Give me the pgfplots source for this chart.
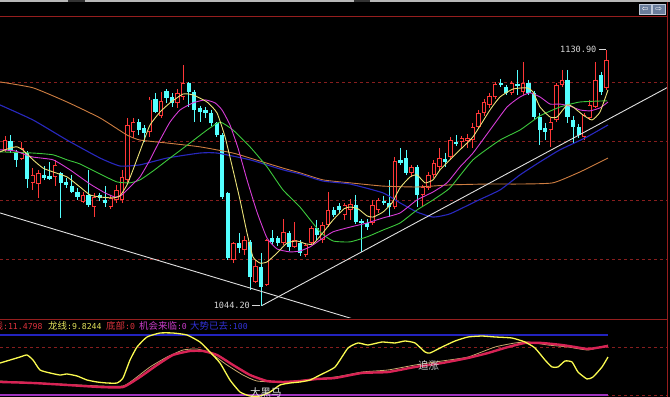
\documentclass[border=0pt]{standalone}
\usepackage{pgfplots}
\pgfplotsset{compat=1.18}
\usepackage{pgfplotstable}
\usepackage{fontspec}
\setmainfont{DejaVu Sans}
\newfontfamily\cjk{Noto Sans CJK SC}
\newfontfamily\mono{DejaVu Sans Mono}

\definecolor{cup}{RGB}{255,55,55}
\definecolor{cdown}{RGB}{84,255,255}
\definecolor{maA}{RGB}{235,225,120}
\definecolor{maB}{RGB}{215,60,215}
\definecolor{maC}{RGB}{60,200,60}
\definecolor{maD}{RGB}{40,40,190}
\definecolor{maE}{RGB}{205,125,65}
\definecolor{gridred}{RGB}{135,30,30}
\definecolor{framered}{RGB}{150,30,30}
\definecolor{indy}{RGB}{250,250,80}
\definecolor{indr}{RGB}{215,35,85}
\definecolor{indt}{RGB}{200,170,110}
\definecolor{lbl}{RGB}{215,215,215}
\definecolor{hred}{RGB}{220,50,60}
\definecolor{hyel}{RGB}{225,225,90}
\definecolor{hmag}{RGB}{200,60,200}
\definecolor{hblu}{RGB}{50,50,215}
\definecolor{zblue}{RGB}{35,35,190}
\definecolor{zpurp}{RGB}{160,50,190}

% up (red) candles: index open high low close
\pgfplotstableread{
i o h l c
0 1096.9 1101.7 1096.3 1100.3
3 1094.0 1099.5 1093.5 1097.5
5 1085.8 1090.8 1083.4 1088.5
6 1085.4 1090.2 1080.7 1089.1
9 1087.8 1093.6 1084.8 1091.9
14 1079.3 1082.7 1079.0 1081.7
16 1077.6 1082.4 1074.2 1081.0
19 1077.6 1081.7 1076.9 1080.7
20 1080.0 1085.1 1079.0 1083.4
21 1080.0 1090.2 1079.0 1087.8
22 1086.8 1107.8 1086.1 1105.4
23 1103.1 1107.8 1101.0 1106.4
26 1103.1 1114.9 1101.4 1114.0
28 1108.5 1116.6 1107.8 1113.6
31 1112.9 1117.6 1111.2 1116.3
32 1114.9 1125.8 1113.9 1119.7
41 1059.7 1065.8 1058.6 1065.4
43 1063.1 1067.8 1061.4 1066.4
45 1052.2 1059.7 1051.9 1057.6
47 1051.2 1066.8 1050.8 1066.4
50 1065.4 1073.6 1064.7 1069.2
52 1064.1 1072.5 1063.7 1066.4
54 1061.4 1065.4 1060.7 1064.7
55 1065.4 1071.2 1064.7 1070.5
57 1066.4 1072.5 1065.4 1071.5
58 1071.5 1082.7 1070.8 1076.6
61 1074.9 1079.0 1073.2 1078.3
62 1076.6 1080.3 1073.2 1078.6
66 1072.2 1080.0 1071.5 1078.3
67 1076.6 1080.7 1075.6 1080.0
70 1077.6 1094.6 1076.9 1093.2
73 1089.2 1091.9 1087.8 1091.2
75 1081.7 1085.1 1077.6 1084.4
76 1084.1 1089.5 1083.4 1088.5
77 1088.5 1093.6 1087.5 1092.5
78 1091.2 1097.6 1090.2 1094.2
80 1094.6 1101.4 1093.6 1100.3
82 1099.7 1101.7 1097.6 1101.0
83 1100.0 1102.4 1097.6 1101.0
84 1100.3 1106.1 1097.6 1104.7
85 1104.7 1110.5 1104.1 1109.5
86 1109.5 1114.2 1108.5 1113.2
87 1112.2 1116.3 1111.2 1115.3
88 1114.9 1120.0 1114.2 1119.3
91 1116.3 1120.3 1115.6 1119.7
93 1116.6 1126.8 1115.6 1119.7
98 1103.7 1107.8 1098.0 1106.4
99 1107.1 1119.7 1106.4 1119.0
100 1119.0 1124.1 1118.3 1120.7
104 1101.4 1109.5 1100.3 1108.8
105 1107.8 1113.9 1107.1 1112.2
106 1111.5 1126.8 1111.2 1120.7
108 1118.0 1130.9 1117.3 1127.5
}\up

% down (cyan) candles
\pgfplotstableread{
i o h l c
1 1100.0 1102.0 1095.9 1096.6
2 1096.3 1097.0 1091.2 1093.6
4 1095.9 1096.5 1084.1 1087.1
7 1088.5 1091.5 1086.8 1087.5
8 1088.1 1092.9 1086.8 1087.1
10 1089.1 1089.5 1073.9 1085.8
11 1086.1 1087.5 1084.0 1085.1
12 1084.7 1088.5 1082.4 1082.7
13 1082.7 1084.0 1080.0 1081.0
15 1081.7 1090.2 1077.6 1078.3
17 1081.7 1082.4 1079.6 1080.7
18 1080.0 1084.7 1077.6 1079.0
24 1106.4 1107.5 1102.0 1103.7
25 1104.4 1105.4 1099.7 1102.7
27 1114.2 1116.3 1109.5 1109.8
29 1116.9 1117.6 1113.0 1114.6
30 1114.9 1116.3 1111.5 1112.9
33 1119.7 1120.0 1111.5 1116.6
34 1116.6 1117.3 1106.4 1110.5
35 1111.2 1112.0 1106.4 1109.8
36 1110.5 1111.5 1107.8 1109.5
37 1109.5 1110.5 1105.0 1106.1
38 1106.1 1106.4 1101.4 1102.0
39 1102.0 1102.7 1080.3 1081.0
40 1082.4 1082.7 1059.7 1060.3
42 1065.4 1068.8 1062.0 1063.7
44 1065.8 1066.4 1049.5 1053.9
46 1057.3 1062.0 1044.2 1050.5
48 1067.1 1069.8 1064.7 1065.8
49 1067.1 1067.8 1064.4 1065.4
51 1068.8 1069.5 1062.7 1064.1
53 1065.4 1066.4 1061.0 1062.0
56 1070.5 1073.2 1066.4 1068.1
59 1076.6 1077.6 1074.2 1074.9
60 1078.0 1079.0 1075.6 1076.6
63 1078.3 1081.7 1071.9 1072.5
64 1072.9 1073.6 1062.4 1072.2
65 1072.2 1073.6 1069.8 1070.8
68 1079.7 1081.4 1078.3 1079.0
69 1079.0 1086.8 1074.2 1077.6
71 1093.6 1097.6 1091.9 1092.5
72 1094.2 1097.0 1088.5 1089.2
74 1091.2 1091.9 1077.6 1081.7
79 1093.9 1095.9 1091.2 1092.9
81 1099.7 1102.0 1098.3 1099.0
89 1119.7 1121.0 1118.3 1119.0
90 1118.3 1119.0 1115.6 1116.3
92 1119.3 1124.1 1115.6 1118.6
94 1119.7 1120.7 1115.6 1116.3
95 1116.3 1117.0 1107.5 1108.1
96 1108.1 1109.5 1098.6 1103.7
97 1104.4 1106.1 1100.3 1103.1
101 1120.7 1124.1 1106.1 1108.1
102 1107.1 1108.5 1099.3 1104.7
103 1104.7 1105.8 1101.0 1102.0
107 1122.4 1123.4 1115.6 1116.6
}\down

\pgfplotsset{
  wick/.style={draw=none, mark=none, forget plot,
    error bars/.cd, y dir=minus, y explicit, error mark=none,
    error bar style={solid, line width=0.9bp, draw=#1}},
  body/.style 2 args={draw=none, mark=none, forget plot,
    error bars/.cd, y dir=minus, y explicit, error mark=none,
    error bar style={solid, line width=#2, draw=#1}},
}

\newcommand{\hdr}[5]{\node[anchor=west, inner sep=0, text=#1] at (#2bp,71bp)
  {{\cjk\fontsize{9.5}{10}\selectfont #3}{\mono\fontsize{8.2}{10}\selectfont #4}#5};}

\begin{document}
\begin{tikzpicture}
\fill[black] (0,0) rectangle (670bp,397bp);

% ---------------- main price panel ----------------
\begin{axis}[
  at={(0bp,79bp)}, anchor=south west,
  width=667bp, height=301bp, scale only axis,
  xmin=-0.9, xmax=118.85, ymin=1040, ymax=1142,
  axis line style={draw=none},
  xtick=\empty, ytick={1060,1080,1100,1120}, yticklabels={},
  major tick length=0pt,
  ymajorgrids, grid style={gridred, line width=0.8bp, dash pattern=on 3bp off 3bp},
]
% cyan candles
\addplot[wick=cdown] table[x=i, y=h, y error minus expr=\thisrow{h}-\thisrow{l}] {\down};
\addplot[body={cdown}{4.2bp}] table[x=i, y=o, y error minus expr=\thisrow{o}-\thisrow{c}] {\down};
% red hollow candles
\addplot[wick=cup] table[x=i, y=h, y error minus expr=\thisrow{h}-\thisrow{c}] {\up};
\addplot[wick=cup] table[x=i, y=o, y error minus expr=\thisrow{o}-\thisrow{l}] {\up};
\addplot[body={cup}{4.4bp}] table[x=i, y=c, y error minus expr=\thisrow{c}-\thisrow{o}] {\up};
\addplot[body={black}{2.8bp}] table[x=i, y expr=\thisrow{c}-0.28, y error minus expr=\thisrow{c}-\thisrow{o}-0.56] {\up};

% long moving average (orange)
\addplot[maE, line width=0.9bp, mark=none, smooth, tension=0.3] coordinates {
(-0.9,1120.0) (5.03,1118.0) (11.13,1113.2) (17.06,1107.8) (21.9,1102.0) (24.24,1100.3)
(29.08,1099.3) (35.01,1098.0) (40.93,1095.9) (43.99,1094.2) (49.91,1090.8) (52.96,1089.2)
(57.09,1086.8) (61.94,1085.8) (67.86,1084.7) (73.97,1084.4) (79.89,1085.1) (86.53,1085.4)
(92.46,1085.4) (98.38,1085.8) (103.23,1089.5) (108.26,1094.2)};
% blue
\addplot[maD, line width=1.1bp, mark=none, smooth, tension=0.3] coordinates {
(-0.9,1112.2) (5.03,1107.1) (11.13,1100.3) (17.06,1094.2) (20.65,1091.5) (24.24,1091.9)
(29.08,1094.2) (35.01,1095.9) (38.06,1095.9) (43.99,1093.6) (49.91,1090.2) (52.96,1088.8)
(57.09,1086.4) (61.94,1085.4) (67.86,1082.4) (70.92,1079.0) (73.97,1075.9) (76.84,1074.2)
(79.89,1075.3) (84.74,1079.7) (88.87,1083.4) (92.46,1088.5) (96.05,1092.9) (99.64,1097.0)
(104.13,1101.0) (108.26,1105.4)};
% green
\addplot[maC, line width=0.9bp, mark=none, smooth, tension=0.3] coordinates {
(-0.9,1096.3) (5.03,1095.9) (8.62,1095.3) (11.13,1093.6) (13.46,1092.2) (17.06,1088.8)
(20.11,1086.1) (22.44,1085.8) (24.24,1086.8) (26.57,1089.8) (29.62,1094.2) (33.21,1099.3)
(36.27,1103.7) (38.6,1106.4) (40.93,1103.7) (43.99,1098.0) (47.04,1091.2) (49.91,1083.4)
(52.96,1077.6) (56.55,1069.2) (58.89,1066.1) (61.94,1065.8) (64.99,1067.5) (67.86,1069.8)
(70.92,1072.2) (73.97,1076.6) (76.84,1080.0) (79.89,1084.1) (84.02,1093.6) (88.87,1100.3)
(92.46,1103.7) (96.05,1108.5) (99.64,1111.5) (103.23,1113.2) (108.08,1113.6)};
% magenta
\addplot[maB, line width=0.9bp, mark=none, smooth, tension=0.3] coordinates {
(-0.9,1097.0) (1.8,1096.6) (4.85,1094.6) (8.62,1093.6) (11.67,1090.2) (15.26,1085.4)
(17.95,1082.4) (19.75,1081.0) (21.0,1081.7) (22.8,1085.1) (24.24,1087.8) (26.03,1093.6)
(27.83,1100.3) (29.62,1106.4) (31.42,1110.5) (33.75,1112.9) (35.91,1113.9) (37.7,1112.9)
(38.96,1110.5) (40.39,1105.4) (41.83,1097.6) (43.45,1086.8) (45.24,1075.9) (47.04,1067.1)
(48.83,1063.4) (51.17,1062.4) (52.96,1062.7) (54.76,1064.1) (56.55,1066.4) (58.89,1069.2)
(61.94,1070.8) (64.99,1072.2) (67.86,1073.9) (70.92,1075.6) (73.97,1080.0) (76.84,1082.7)
(79.35,1085.8) (81.69,1091.2) (84.02,1095.9) (87.07,1103.7) (90.13,1111.5) (92.46,1114.9)
(94.25,1116.3) (96.05,1114.9) (97.85,1112.5) (99.64,1112.5) (101.44,1111.8) (103.23,1110.5)
(105.03,1110.2) (106.82,1111.2) (108.26,1113.2)};
% yellow
\addplot[maA, line width=0.9bp, mark=none, smooth, tension=0.3] coordinates {
(-0.9,1096.3) (0.9,1097.6) (2.15,1098.0) (3.23,1096.9) (5.03,1093.6) (6.82,1090.8)
(8.62,1089.5) (11.13,1087.8) (13.46,1084.4) (15.26,1081.7) (17.06,1081.0) (19.39,1080.7)
(20.65,1081.4) (21.9,1085.1) (22.98,1090.2) (24.78,1099.3) (26.03,1105.4) (27.83,1109.8)
(29.62,1112.9) (31.96,1115.9) (33.75,1115.6) (36.27,1113.2) (38.06,1109.5) (39.5,1101.4)
(40.93,1090.2) (42.19,1080.0) (43.45,1068.8) (44.52,1060.7) (45.78,1058.6) (47.04,1059.0)
(48.83,1062.0) (50.63,1065.4) (52.42,1066.1) (54.04,1065.1) (55.3,1065.1) (56.91,1068.5)
(58.89,1073.2) (60.86,1077.0) (61.94,1077.6) (63.38,1077.0) (64.99,1074.6) (66.07,1074.2)
(67.86,1075.9) (69.48,1079.0) (70.92,1084.1) (72.71,1087.8) (73.97,1088.5) (75.4,1085.8)
(76.84,1086.8) (78.1,1090.2) (79.89,1093.6) (81.69,1097.0) (84.02,1101.4) (87.07,1110.5)
(88.87,1114.9) (91.2,1117.6) (93.72,1118.0) (94.79,1116.6) (96.05,1111.5) (97.85,1108.1)
(99.1,1108.1) (100.9,1112.2) (101.98,1111.5) (103.77,1108.8) (105.39,1107.1) (106.82,1109.8)
(108.26,1117.3)};
% trend lines
\addplot[white!88!black, line width=0.9bp, mark=none] coordinates {(-0.9,1075.6) (62.8,1039.5)};
\addplot[white!88!black, line width=0.9bp, mark=none] coordinates {(46.1,1044.2) (119.4,1118.6)};
% extreme labels
\node[anchor=east, inner sep=0, text=lbl, font=\mono\fontsize{8.6}{9}\selectfont] at (axis cs:106.2,1130.9) {1130.90};
\draw[lbl, line width=0.6bp] (axis cs:106.6,1130.9) -- (axis cs:107.9,1130.9);
\node[anchor=east, inner sep=0, text=lbl, font=\mono\fontsize{8.6}{9}\selectfont] at (axis cs:44.0,1044.2) {1044.20};
\draw[lbl, line width=0.6bp] (axis cs:44.3,1044.2) -- (axis cs:45.8,1044.2);
\end{axis}

% ---------------- indicator panel ----------------
\begin{axis}[
  at={(0bp,0bp)}, anchor=south west,
  width=667bp, height=78bp, scale only axis,
  xmin=-0.9, xmax=118.85, ymin=-3.33, ymax=126.67,
  axis line style={draw=none},
  xtick=\empty, ytick={0,80}, yticklabels={},
  major tick length=0pt,
  ymajorgrids, grid style={gridred, line width=0.8bp, dash pattern=on 3bp off 3bp},
]
\addplot[zblue, line width=1.5bp, mark=none] coordinates {(-0.9,100) (108.3,100)};
\addplot[zpurp, line width=1.8bp, mark=none] coordinates {(-0.9,0) (108.3,0)};
% thin tan line
\addplot[indt, line width=0.8bp, mark=none, smooth, tension=0.3] coordinates {
(-0.9,23.3) (17.06,15) (21.18,15) (22.98,25) (26.03,46.7) (29.08,63.3) (31.96,75)
(34.47,76.7) (36.8,70) (39.86,50) (42.73,33.3) (45.24,23.3) (49.91,21.7) (59.25,30)
(64.09,38.3) (68.76,41.7) (73.61,50) (78.46,56.7) (83.12,63.3) (87.97,80) (91.56,86.7)
(93.9,88.3) (97.49,83.3) (101.08,80) (104.67,75) (108.26,83.3)};
% thick red line
\addplot[indr, line width=2.4bp, mark=none, smooth, tension=0.3] coordinates {
(-0.9,21.7) (5.03,20) (11.13,16.7) (17.06,13.3) (21.18,13.3) (24.24,30) (27.29,50)
(30.16,66.7) (33.21,73.3) (35.55,73.3) (38.06,66.7) (40.93,50) (43.99,33.3) (47.04,23.3)
(49.91,21.7) (52.96,23.3) (56.01,26.7) (59.25,28.3) (64.09,36.7) (68.76,38.3) (73.61,46.7)
(78.46,53.3) (83.12,61.7) (86.71,70) (90.31,80) (93.36,86.7) (96.41,86.7) (100,83.3)
(102.33,80) (104.67,76.7) (107.18,80) (108.26,81.7)};
% yellow line
\addplot[indy, line width=1.3bp, mark=none, smooth, tension=0.3] coordinates {
(-0.9,53.3) (0.9,58.3) (2.69,63.3) (3.95,66.7) (5.03,58.3) (6.28,41.7) (8.08,36.7)
(9.87,33.3) (11.13,35) (12.93,31.7) (14.72,25) (16.52,21.7) (18.31,20) (20.11,20)
(21.18,28.3) (22.44,58.3) (23.7,80) (25.49,96.7) (27.83,103.3) (30.16,103.3) (32.68,100)
(35.01,88.3) (36.8,71.7) (38.6,53.3) (40.39,25) (42.19,5) (43.99,-1.7) (45.78,-1.7)
(47.58,5) (49.37,16.7) (51.17,20) (52.96,21.7) (54.76,25) (56.55,33.3) (59.25,46.7)
(61.58,78.3) (63.38,86.7) (65.17,83.3) (67.68,88.3) (70.02,86.7) (71.81,90) (73.61,86.7)
(75.4,71.7) (76.3,70) (78.46,80) (80.79,90) (83.12,96.7) (85.64,98.3) (87.97,96.7)
(91.02,95) (93.36,88.3) (95.15,78.3) (96.95,58.3) (98.2,46.7) (99.28,46.7) (100.54,56.7)
(101.8,55) (102.87,38.3) (104.49,26.7) (105.57,30) (107.18,46.7) (108.26,63.3)};
\end{axis}

% ---------------- frame, header and labels ----------------
\fill[white!72!black] (0,394.5bp) rectangle (670bp,397bp);
\fill[white!20!black] (68bp,394.5bp) rectangle (85bp,397bp);
\fill[white!20!black] (354bp,394.5bp) rectangle (370bp,397bp);
\draw[framered, line width=0.9bp] (0,380.5bp) -- (667bp,380.5bp);
\draw[framered, line width=0.9bp] (0,78bp) -- (667bp,78bp);
\draw[framered, line width=0.9bp] (667bp,0) -- (667bp,394.5bp);

\filldraw[fill={rgb,255:red,105;green,125;blue,155}, draw={rgb,255:red,190;green,200;blue,215}, line width=0.6bp] (639bp,382.5bp) rectangle (651.5bp,393bp);
\filldraw[fill={rgb,255:red,105;green,125;blue,155}, draw={rgb,255:red,190;green,200;blue,215}, line width=0.6bp] (652.5bp,382.5bp) rectangle (665bp,393bp);
\node[inner sep=0, text=white, font=\fontsize{8}{8}\selectfont] at (645.3bp,387.8bp) {⇦};
\node[inner sep=0, text=white, font=\fontsize{8}{8}\selectfont] at (658.8bp,387.8bp) {⇨};

\hdr{hred}{-6.5}{线}{:11.4798}{}
\hdr{hyel}{48}{龙线}{:9.8244}{}
\hdr{hred}{106}{底部}{:0}{}
\hdr{hmag}{139}{机会来临}{:0}{}
\hdr{hblu}{190}{大势已去}{:100}{}

\node[anchor=west, inner sep=0, text=white!88!black, font=\cjk\fontsize{10.5}{11}\selectfont] at (250bp,4.5bp) {大黑马};
\node[anchor=west, inner sep=0, text=white!80!black, font=\cjk\fontsize{10.5}{11}\selectfont] at (418bp,31.5bp) {追涨};

\pgfresetboundingbox
\path (0,0) rectangle (670bp,397bp);
\end{tikzpicture}
\end{document}
